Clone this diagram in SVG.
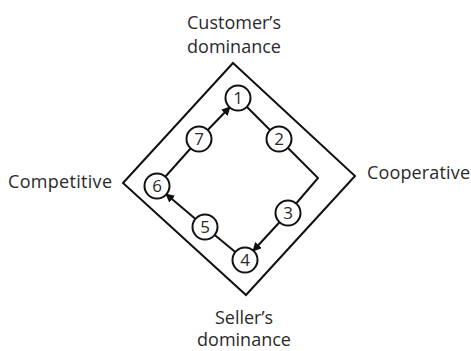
<svg xmlns="http://www.w3.org/2000/svg" width="471" height="351" viewBox="0 0 471 351">
  <style>
    .lbl { font-family: "Open Sans", "Liberation Sans", sans-serif; font-size: 18px; fill: #2a2a2a; }
    .num { font-family: "Open Sans", "Liberation Sans", sans-serif; font-size: 17px; fill: #2a2a2a; text-anchor: middle; }
    .edge { fill: none; stroke: #111; stroke-width: 2; }
    .node circle { fill: #fff; stroke: #111; stroke-width: 2; }
  </style>
  <defs>
    <marker id="arr" viewBox="0 0 10 10" refX="9" refY="5" markerWidth="9" markerHeight="9" markerUnits="userSpaceOnUse" orient="auto">
      <path d="M0,0 L10,5 L0,10 z" fill="#111"/>
    </marker>
  </defs>
  <rect width="471" height="351" fill="#fff"/>

  <!-- outer frame -->
  <polygon id="frame" points="233,63 355,176 246,295 123,183" fill="none" stroke="#111" stroke-width="2"/>

  <!-- connectors -->
  <g id="connectors">
    <polyline class="edge" points="238,98 279,139 318,178 288,213"/>
    <line class="edge" x1="288" y1="213" x2="253" y2="251" marker-end="url(#arr)"/>
    <line class="edge" x1="245" y1="260" x2="205" y2="227"/>
    <line class="edge" x1="205" y1="227" x2="166" y2="194" marker-end="url(#arr)"/>
    <line class="edge" x1="157" y1="186" x2="199" y2="139"/>
    <line class="edge" x1="199" y1="139" x2="230" y2="107" marker-end="url(#arr)"/>
  </g>

  <!-- numbered stages -->
  <g id="n1" class="node"><circle cx="238" cy="98" r="12.5"/><text class="num" x="238" y="104">1</text></g>
  <g id="n2" class="node"><circle cx="279" cy="139" r="12.5"/><text class="num" x="279" y="145">2</text></g>
  <g id="n3" class="node"><circle cx="288" cy="213" r="12.5"/><text class="num" x="288" y="219">3</text></g>
  <g id="n4" class="node"><circle cx="245" cy="260" r="12.5"/><text class="num" x="245" y="266">4</text></g>
  <g id="n5" class="node"><circle cx="205" cy="227" r="12.5"/><text class="num" x="205" y="233">5</text></g>
  <g id="n6" class="node"><circle cx="157" cy="186" r="12.5"/><text class="num" x="157" y="192">6</text></g>
  <g id="n7" class="node"><circle cx="199" cy="139" r="12.5"/><text class="num" x="199" y="145">7</text></g>

  <!-- axis labels -->
  <g id="top-label"><text class="lbl" x="234" y="29" text-anchor="middle">Customer’s</text><text class="lbl" x="234" y="53" text-anchor="middle">dominance</text></g>
  <g id="left-label"><text class="lbl" x="8" y="188" textLength="104">Competitive</text></g>
  <g id="right-label"><text class="lbl" x="367" y="179" textLength="103">Cooperative</text></g>
  <g id="bottom-label"><text class="lbl" x="244" y="324" text-anchor="middle">Seller’s</text><text class="lbl" x="244" y="346" text-anchor="middle">dominance</text></g>
</svg>
